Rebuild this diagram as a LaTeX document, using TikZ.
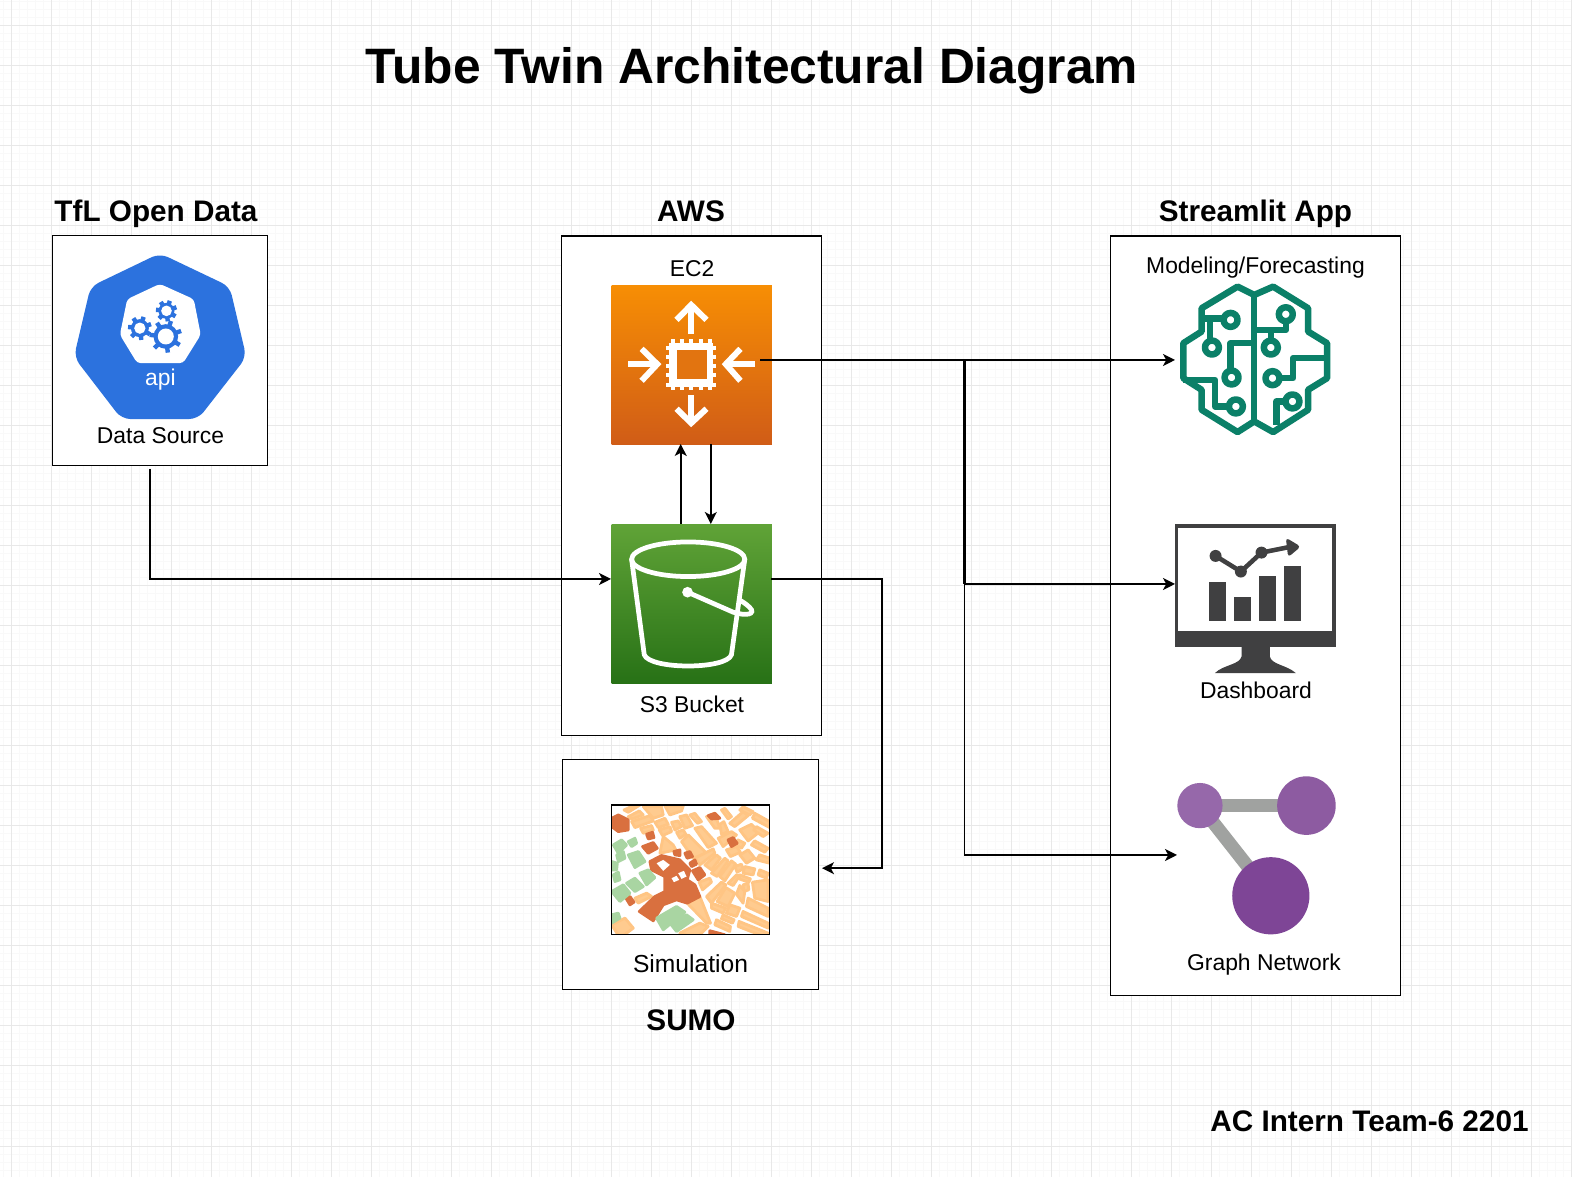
\documentclass[tikz,border=0pt]{standalone}
\usepackage{fontspec}
\setmainfont{Liberation Sans}
\usetikzlibrary{arrows.meta}

\definecolor{apiblue}{HTML}{2C72DE}
\definecolor{braingreen}{HTML}{0B8068}
\definecolor{screendark}{HTML}{404041}
\definecolor{edgegray}{HTML}{A0A2A0}
\definecolor{mappeach}{HTML}{FFCB8F}
\definecolor{mapedge}{HTML}{FFC584}
\definecolor{mapdark}{HTML}{D9703F}
\definecolor{mapgreen}{HTML}{A9D5A2}
\definecolor{ectop}{HTML}{F78E04}
\definecolor{ecbottom}{HTML}{D05C17}
\definecolor{ecmid}{HTML}{E27410}
\definecolor{sthreetop}{HTML}{60A337}
\definecolor{sthreebottom}{HTML}{277116}
\definecolor{nodeone}{HTML}{9668AA}
\definecolor{nodetwo}{HTML}{8D5BA1}
\definecolor{nodethree}{HTML}{7E4596}

\tikzset{
  minorgrid/.style={draw=black!2.5,line width=0.28pt},
  majorgrid/.style={draw=black!9,line width=0.28pt},
  panel/.style={draw=black,line width=0.3pt,fill=white,anchor=north west,inner sep=0pt},
  tile/.style={anchor=north west,inner sep=0pt,minimum width=1.6cm,minimum height=1.59cm},
  label/.style={font=\fontsize{6.5}{8}\selectfont,inner sep=0pt},
  heading/.style={font=\fontsize{8.45}{10}\selectfont\bfseries,inner sep=0pt},
  link/.style={draw=black,line width=0.55pt,-{Stealth[length=3.4pt,width=3.4pt,inset=0.9pt]}},
  iconzoom/.style={shift={(#1)},x=0.003333cm,y=-0.003333cm},
  whiteline/.style={draw=white,line width=1.7pt},
  brainline/.style={draw=braingreen,line width=1.85pt,line join=round},
  mapblock/.style={fill=mappeach,draw=mapedge,line width=0.8pt,line join=round},
  mapstrong/.style={fill=mapdark,draw=mapdark,line width=0.8pt,line join=round},
  mappark/.style={fill=mapgreen,draw=mapgreen,line width=0.8pt,line join=round},
}

% gear of the api icon: centre, body radius, hole radius
\newcommand{\apigear}[3]{
  \foreach \a in {0,...,6}
    \draw[apiblue,line width=1.25pt,shift={(#1)},rotate=\a*51.43+20] (0,0) -- (#2*1.32,0);
  \fill[apiblue] (#1) circle (#2);
  \fill[white] (#1) circle (#3);
}
% one map block out of the loop variables
\newcommand{\mapquad}[1]{
  \path[#1] (\ax,\ay) -- (\bx,\by) -- (\cx,\cy) -- (\dx,\dy) -- cycle;
}

\begin{document}
\begin{tikzpicture}[x=0.01cm,y=-0.01cm]
    \useasboundingbox (0,0) rectangle (1572,1177);
    \fill[white] (0,0) rectangle (1572,1177);

    % Background grid
    \foreach \x in {3,11,...,1571}
        \draw[minorgrid] (\x,0) -- (\x,1177);
    \foreach \y in {2,10,...,1176}
        \draw[minorgrid] (0,\y) -- (1572,\y);
    \foreach \x in {11,51,...,1571}
        \draw[majorgrid] (\x,0) -- (\x,1177);
    \foreach \y in {26,66,...,1176}
        \draw[majorgrid] (0,\y) -- (1572,\y);

    % Title and footer
    \node[font=\fontsize{14.15}{16}\selectfont\bfseries,inner sep=0pt] (title) at (752,71) {Tube Twin Architectural Diagram};
    \node[heading] (team) at (1369.5,1121) {AC Intern Team-6 2201};

    % Panels
    \node[panel,minimum width=2.146cm,minimum height=2.297cm] (tfl) at (51.9,235.3) {};
    \node[panel,minimum width=2.597cm,minimum height=4.994cm] (aws) at (561.4,235.5) {};
    \node[panel,minimum width=2.557cm,minimum height=2.296cm] (sumo) at (562.4,759.4) {};
    \node[panel,minimum width=2.898cm,minimum height=7.59cm] (app) at (1110,235.5) {};

    % Panel headings
    \node[heading] (tflhead) at (156,214) {TfL Open Data};
    \node[heading] (awshead) at (691,211) {AWS};
    \node[heading] (apphead) at (1255.5,214) {Streamlit App};
    \node[heading] (sumohead) at (691,1020) {SUMO};

    % Icon tiles
    \node[tile,top color=ectop,bottom color=ecbottom] (ectwo) at (611,285) {};
    \node[tile,top color=sthreetop,bottom color=sthreebottom] (sthree) at (611,524) {};

    % Api icon
    \begin{scope}[iconzoom={50,230}]
        \fill[apiblue,rounded corners=2.5pt] (330,70) -- (540,170) -- (590,382) -- (445,568) -- (215,568) -- (72,382) -- (122,170) -- cycle;
        \fill[white,rounded corners=1pt] (330,162) -- (432,208) -- (453,315) -- (400,400) -- (262,400) -- (210,315) -- (232,208) -- cycle;
        \apigear{350,243}{24}{16}
        \apigear{270,295}{27}{17}
        \apigear{348,320}{37}{24}
    \end{scope}
    \node[label,text=white] (apitext) at (160.5,380) {api};
    \node[label] (datasource) at (160.5,436) {Data Source};

    % EC2 icon
    \begin{scope}[iconzoom={600,275}]
        \foreach \pin in {218,246,274,302,330} {
            \fill[white] (\pin-6,192) rectangle (\pin+6,345);
            \fill[white] (198,\pin-6) rectangle (350,\pin+6);
        }
        \fill[white] (208,203) rectangle (340,335);
        \fill[ecmid] (230,225) rectangle (320,312);
        \draw[whiteline] (274,178) -- (274,90);
        \draw[whiteline] (230,135) -- (274,90) -- (320,135);
        \draw[whiteline] (274,360) -- (274,445);
        \draw[whiteline] (230,402) -- (274,445) -- (320,402);
        \draw[whiteline] (85,268) -- (172,268);
        \draw[whiteline] (125,222) -- (172,268) -- (125,318);
        \draw[whiteline] (465,268) -- (378,268);
        \draw[whiteline] (422,222) -- (378,268) -- (422,318);
    \end{scope}
    \node[label] (ectext) at (692,269) {EC2};

    % S3 bucket icon
    \begin{scope}[iconzoom={600,515}]
        \draw[whiteline,line width=1.35pt] (265,133) ellipse (170 and 52);
        \draw[whiteline,line width=1.35pt,line join=round] (95,133) -- (133,420) .. controls (150,465) and (380,465) .. (395,420) -- (435,133);
        \fill[white] (263,232) circle (16);
        \draw[whiteline,line width=1.35pt] (263,232) -- (400,292) .. controls (440,305) and (470,298) .. (450,278) .. controls (440,268) and (428,260) .. (418,255);
    \end{scope}
    \node[label] (sthreetext) at (692,704) {S3 Bucket};

    % Simulation map
    \begin{scope}[iconzoom={600,795}]
        \begin{scope}
        \clip (35,30) rectangle (510,420);
        \foreach \ax/\ay/\bx/\by/\cx/\cy/\dx/\dy in {
            72/45/105/30/120/30/85/52, 85/65/118/48/130/60/95/72,
            130/35/185/35/190/60/160/70, 195/33/250/33/245/48/210/60,
            95/80/150/62/160/78/105/98, 165/82/195/70/205/88/175/98,
            122/100/155/92/160/105/130/115, 178/105/210/95/215/110/188/122,
            215/82/235/78/245/95/225/105, 240/65/260/60/278/92/255/100,
            270/60/285/55/305/80/293/85, 230/112/250/105/258/118/240/130,
            285/100/305/95/350/145/325/158, 245/140/265/120/320/175/280/190,
            190/125/220/150/228/165/180/175, 320/65/345/55/360/100/345/100,
            365/45/375/40/395/65/385/72, 390/85/430/50/445/62/405/95,
            430/35/460/50/450/60/420/45, 465/55/510/80/510/98/458/70,
            360/88/372/80/385/110/365/118, 420/105/455/88/478/112/445/138,
            470/95/505/115/490/125/462/105, 355/130/395/110/410/120/370/155,
            415/135/435/145/425/160/408/150, 465/138/505/160/495/172/455/150,
            420/180/445/165/465/190/440/205, 380/165/410/155/422/172/392/185,
            480/180/510/190/510/205/470/195,
            285/190/340/162/345/175/300/210, 315/210/350/180/362/190/335/225,
            335/235/375/190/385/198/352/245, 360/245/395/198/408/208/375/258,
            385/265/410/240/420/242/400/272, 405/215/425/208/430/222/412/232,
            435/215/465/222/460/240/430/235, 420/240/452/252/447/262/418/252,
            430/270/445/265/447/285/432/290, 298/262/330/250/335/262/308/285,
            320/305/365/262/378/270/335/325, 352/320/378/278/405/295/385/335,
            410/298/420/272/435/290/430/325, 458/262/505/255/505/320/465/310,
            445/310/505/340/505/365/440/335, 390/330/420/340/410/365/380/355,
            335/325/378/340/370/355/335/340, 370/360/403/375/398/385/365/372,
            350/375/392/395/390/410/345/390, 430/350/505/385/505/400/425/365,
            418/380/505/415/505/430/415/395, 105/310/140/295/155/305/115/325,
            240/415/300/385/325/395/290/430, 35/390/75/370/100/400/60/430,
            262/325/300/305/332/385/320/385, 480/225/505/235/500/250/475/240%
        } {\mapquad{mapblock}}
        % darker blocks
        \path[mapstrong] (150,200) -- (185,182) -- (240,195) -- (270,225) -- (262,255) -- (285,270) -- (300,305) -- (262,325) -- (230,315) -- (190,330) -- (160,378) -- (118,350) -- (165,305) -- (195,290) -- (195,245) -- (155,225) -- cycle;
        \fill[white] (170,205) -- (190,195) -- (210,210) -- (190,228) -- cycle;
        \fill[white] (235,235) -- (252,228) -- (260,245) -- (245,252) -- cycle;
        \fill[white] (215,250) -- (230,243) -- (238,255) -- (222,262) -- cycle;
        \foreach \ax/\ay/\bx/\by/\cx/\cy/\dx/\dy in {
            140/118/158/112/162/128/145/132, 128/155/160/143/172/160/145/175,
            222/170/240/165/240/182/225/180, 255/175/270/170/278/185/262/190,
            278/228/300/218/315/240/295/255, 270/205/285/195/290/208/275/215,
            325/62/345/55/360/70/335/72, 385/135/400/128/412/145/395/155,
            78/310/90/305/102/322/90/330, 330/408/375/420/375/430/330/430%
        } {\mapquad{mapstrong}}
        \path[mapstrong] (35,70) -- (55,60) -- (85,75) -- (85,105) -- (55,110) -- (35,95) -- cycle;
        % parks
        \foreach \ax/\ay/\bx/\by/\cx/\cy/\dx/\dy in {
            40/150/65/135/80/150/55/175, 85/140/105/130/110/145/95/155,
            50/180/70/170/75/190/55/200, 40/240/55/232/60/255/45/260,
            35/200/52/205/50/225/35/225, 85/180/115/170/135/200/105/218,
            120/235/145/225/165/248/140/270, 80/265/105/250/130/275/105/290,
            35/290/70/270/90/295/60/320, 35/360/55/355/60/370/35/385,
            170/370/230/335/255/352/190/405, 210/385/260/360/280/375/230/410%
        } {\mapquad{mappark}}
        \end{scope}
        \draw[black,line width=0.35pt] (35,30) rectangle (510,420);
    \end{scope}
    \node[label,font=\fontsize{7}{8}\selectfont] (simtext) at (690.5,964) {Simulation};

    % Brain icon
    \begin{scope}[iconzoom={1165,275}]
        \draw[brainline] (268,60) -- (218,35) -- (110,100) -- (110,170) -- (55,205) -- (55,310) -- (110,345) -- (110,405) -- (218,472) -- (268,440)
            -- (325,472) -- (430,405) -- (430,345) -- (487,310) -- (487,205) -- (430,170) -- (430,100) -- (325,35) -- cycle;
        \draw[brainline] (268,60) -- (268,440);
        \draw[brainline] (110,130) -- (175,130);
        \draw[brainline] (135,130) -- (135,195);
        \draw[brainline] (268,205) -- (197,205) -- (197,285);
        \draw[brainline] (55,315) -- (150,315) -- (150,395) -- (190,395);
        \draw[brainline] (268,165) -- (363,165) -- (363,140);
        \draw[brainline] (318,165) -- (318,195);
        \draw[brainline] (345,310) -- (385,310) -- (385,250) -- (487,250);
        \draw[brainline] (360,380) -- (335,380) -- (335,450);
        \foreach \ringx/\ringy in {197/135,141/218,200/308,213/395,363/118,318/218,323/310,383/380}
            \draw[brainline,fill=white] (\ringx,\ringy) circle (21);
    \end{scope}
    \node[label] (modeltext) at (1255.5,268) {Modeling/Forecasting};

    % Dashboard icon
    \begin{scope}[iconzoom={1160,515}]
        \fill[screendark] (45,28) rectangle (528,398);
        \fill[white] (55,38) rectangle (518,348);
        \fill[screendark] (245,395) -- (245,425) .. controls (240,450) and (190,450) .. (165,475) -- (408,475) .. controls (380,450) and (335,450) .. (330,425) -- (330,395) -- cycle;
        \fill[screendark] (148,200) rectangle (198,320);
        \fill[screendark] (223,245) rectangle (274,320);
        \fill[screendark] (298,182) rectangle (349,320);
        \fill[screendark] (373,153) rectangle (423,320);
        \draw[screendark,line width=1.3pt] (167,123) -- (243,170) -- (305,113) -- (385,97);
        \fill[screendark] (167,123) circle (18);
        \fill[screendark] (243,170) circle (18);
        \fill[screendark] (305,113) circle (18);
        \fill[screendark,rounded corners=1pt] (378,68) -- (423,95) -- (385,127) -- cycle;
    \end{scope}
    \node[label] (dashtext) at (1256,690) {Dashboard};

    % Graph icon
    \begin{scope}[iconzoom={1165,765}]
        \draw[edgegray,line width=3.8pt] (105,122) -- (425,122);
        \draw[edgegray,line width=3.8pt] (105,122) -- (318,393);
        \fill[nodeone] (105,122) circle (68);
        \fill[nodetwo] (425,122) circle (88);
        \fill[nodethree] (318,393) circle (116);
    \end{scope}
    \node[label] (graphtext) at (1264,965) {Graph Network};

    % Connector end points
    \coordinate (tflout) at (150.4,469);
    \coordinate (sthreein) at (611,579);
    \coordinate (sthreeout) at (771,579);
    \coordinate (sumoin) at (822,868.2);
    \coordinate (ecout) at (760,360);
    \coordinate (brainin) at (1175,360);
    \coordinate (dashin) at (1175,584);
    \coordinate (graphin) at (1177,855);
    \coordinate (fork) at (964.5,360);
    \coordinate (forkfoot) at (964.5,584);
    \coordinate (upfoot) at (680.7,524);
    \coordinate (uptop) at (680.7,444);
    \coordinate (downtop) at (710.8,444);
    \coordinate (downfoot) at (710.8,524);
    \coordinate (sumobend) at (882.2,579);

    % Connectors
    \draw[link] (tflout) |- (sthreein);
    \draw[link] (sthreeout) -- (sumobend) |- (sumoin);
    \draw[link] (ecout) -- (brainin);
    \draw[link] (ecout) -- (fork) |- (dashin);
    \draw[link] (ecout) -- (fork) |- (graphin);
    \draw[line width=0.75pt] (ecout) -- (fork) -- (forkfoot);
    \draw[link] (upfoot) -- (uptop);
    \draw[link] (downtop) -- (downfoot);
\end{tikzpicture}
\end{document}
